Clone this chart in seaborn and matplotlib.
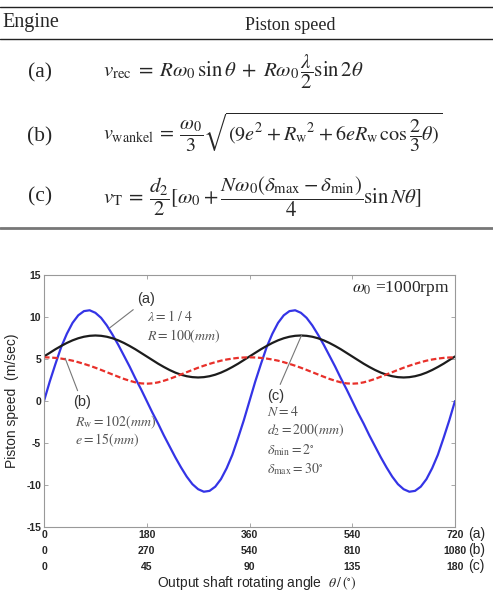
import numpy as np
import seaborn as sns
import matplotlib.pyplot as plt
import pandas as pd
from matplotlib.lines import Line2D

# Output shaft angle for curve (a), degrees (10 deg steps over 0..720)
angle_a = np.arange(0, 721, 10)

# Piston speed (m/sec), one 360 deg period each
period_rec = [0, 2.3, 4.4, 6.4, 8.0, 9.3, 10.2, 10.7, 10.8, 10.5, 9.9, 9.0,
              7.9, 6.7, 5.4, 4.1, 2.7, 1.4, 0, -1.4, -2.7, -4.1, -5.4, -6.7,
              -7.9, -9.0, -9.9, -10.5, -10.8, -10.7, -10.2, -9.3, -8.0, -6.4, -4.4, -2.3]
period_t = [5.3, 5.73, 6.16, 6.55, 6.91, 7.22, 7.47, 7.65, 7.76, 7.8, 7.76, 7.65,
            7.47, 7.22, 6.91, 6.55, 6.16, 5.73, 5.3, 4.87, 4.44, 4.05, 3.69, 3.38,
            3.13, 2.95, 2.84, 2.8, 2.84, 2.95, 3.13, 3.38, 3.69, 4.05, 4.44, 4.87]
period_wankel = [5.2, 5.18, 5.13, 5.05, 4.94, 4.8, 4.62, 4.42, 4.2, 3.96, 3.7, 3.43,
                 3.16, 2.89, 2.63, 2.41, 2.22, 2.1, 2.06, 2.1, 2.22, 2.41, 2.63, 2.89,
                 3.16, 3.43, 3.7, 3.96, 4.2, 4.42, 4.62, 4.8, 4.94, 5.05, 5.13, 5.18]
v_rec = period_rec + period_rec + [0]
v_T = period_t + period_t + [5.3]
v_wankel = period_wankel + period_wankel + [5.2]

# tick labels for the three angle scales
ticks_a = [0, 180, 360, 540, 720]
ticks_b = ["0", "270", "540", "810", "1080"]
ticks_c = ["0", "45", "90", "135", "180"]
yticks = [-15, -10, -5, 0, 5, 10, 15]

df = pd.DataFrame({"angle": angle_a, "rec": v_rec, "T": v_T, "wankel": v_wankel})

sns.set_style("ticks")
plt.rcParams['font.family'] = ['Liberation Sans', 'DejaVu Sans']
plt.rcParams['mathtext.fontset'] = 'stix'

W, H = 493, 593
fig = plt.figure(figsize=(W / 100, H / 100), dpi=100)
fy = lambda p: 1 - p / H
fx = lambda p: p / W

# ---- table on top ----
for y, lw, c in [(7, 1.0, '#222222'), (39, 1.0, '#222222'), (228, 2.0, '#777777')]:
    fig.add_artist(Line2D([0, 1], [fy(y), fy(y)], lw=lw, color=c))

serif = 'Liberation Serif'
fig.text(fx(2), fy(22), "Engine", family=serif, fontsize=14.5, va='center', ha='left')
fig.text(fx(290), fy(25), "Piston speed", family=serif, fontsize=13, va='center', ha='center')

rows = ["(a)", "(b)", "(c)"]
row_y = [73, 137, 197]
eq_y = [72, 132, 197]
equations = [
    r"$v_{\mathrm{rec}} \;=\; R\omega_0\,\sin\theta \;+\; R\omega_0\,\dfrac{\lambda}{2}\sin 2\theta$",
    r"$v_{\mathrm{wankel}} \:=\: \dfrac{\omega_0}{3}\sqrt{(9e^2 \:+\: R_{\mathrm{w}}{}^{2} \:+\: 6eR_{\mathrm{w}}\,\cos\dfrac{2}{3}\theta)}$",
    r"$v_{\mathrm{T}} \:=\: \dfrac{d_2}{2}[\omega_0 \:+\: \dfrac{N\omega_0(\delta_{\mathrm{max}} \:-\: \delta_{\mathrm{min}})}{4}\sin N\theta]$",
]
eq_size = [15, 14.5, 15]
for lab, ry, ey, eq, fs in zip(rows, row_y, eq_y, equations, eq_size):
    fig.text(fx(40), fy(ry), lab, family=serif, fontsize=15.5, va='center', ha='center')
    fig.text(fx(103), fy(ey), eq, fontsize=fs, va='center', ha='left')

# ---- chart ----
ax = fig.add_axes([fx(44), 1 - 527 / H, 411 / W, 252 / H])
sns.lineplot(data=df, x="angle", y="rec", ax=ax, color='#3434e6', lw=1.6)
sns.lineplot(data=df, x="angle", y="T", ax=ax, color='#1c1c1c', lw=1.6)
sns.lineplot(data=df, x="angle", y="wankel", ax=ax, color='#e8302a', lw=1.6,
             linestyle=(0, (2.5, 1.2)))

ax.set_xlim(0, 720)
ax.set_ylim(-15, 15)
ax.set_yticks(yticks)
ax.set_yticklabels([str(v) for v in yticks], fontsize=7.5, fontweight='bold')
ax.set_xticks(ticks_a)
ax.set_xticklabels([f"{a}\n{b}\n{c}" for a, b, c in zip(ticks_a, ticks_b, ticks_c)],
                   fontsize=7.5, fontweight='bold', linespacing=1.75)
ax.tick_params(direction='in', length=3, width=0.6, color='#999999',
               top=True, right=True, pad=2)
for s in ax.spines.values():
    s.set_color('#999999')
    s.set_linewidth(0.8)

ax.set_xlabel("")
ax.set_ylabel("Piston speed  (m/sec)", fontsize=10)
ax.yaxis.set_label_coords(-0.061, 0.5)

for lab, yy in zip(rows, [-0.028, -0.092, -0.156]):
    ax.text(1.032, yy, lab, transform=ax.transAxes, fontsize=10, va='center', ha='left')

fig.text(fx(257), fy(583), r"Output shaft rotating angle  $\theta\,/\,(^{\circ})$",
         fontsize=10, va='center', ha='center')

# annotations
grey = '#555555'
ax.text(540, 13.4, r"$\omega_0$ =1000rpm", family=serif, fontsize=12.5, va='center')

ax.annotate("(a)", xy=(115, 8.7), xytext=(164, 12.1), fontsize=10.5, color='#333333',
            va='center', arrowprops=dict(arrowstyle='-', color='#777777', lw=0.8,
                                         shrinkA=1, shrinkB=0))
ax.text(180, 10.1, r"$\lambda = 1\ /\ 4$", fontsize=10, color=grey, va='center')
ax.text(180, 7.7, r"$R = 100(mm)$", fontsize=10, color=grey, va='center')

ax.annotate("(b)", xy=(37, 5.1), xytext=(51, -0.15), fontsize=10.5, color='#333333',
            va='center', arrowprops=dict(arrowstyle='-', color='#777777', lw=0.8,
                                         shrinkA=1, shrinkB=0))
ax.text(54, -2.5, r"$R_{\mathrm{w}} = 102(mm)$", fontsize=10, color=grey, va='center')
ax.text(54, -4.7, r"$e = 15(mm)$", fontsize=10, color=grey, va='center')

ax.annotate("(c)", xy=(451, 7.8), xytext=(390, 0.6), fontsize=10.5, color='#333333',
            va='center', arrowprops=dict(arrowstyle='-', color='#777777', lw=0.8,
                                         shrinkA=1, shrinkB=0))
ax.text(390, -1.3, r"$N = 4$", fontsize=10, color=grey, va='center')
ax.text(390, -3.5, r"$d_2 = 200(mm)$", fontsize=10, color=grey, va='center')
ax.text(390, -5.9, r"$\delta_{\mathrm{min}} = 2^{\circ}$", fontsize=10, color=grey, va='center')
ax.text(390, -8.1, r"$\delta_{\mathrm{max}} = 30^{\circ}$", fontsize=10, color=grey, va='center')

fig.savefig("out.png", dpi=100, facecolor='white')
